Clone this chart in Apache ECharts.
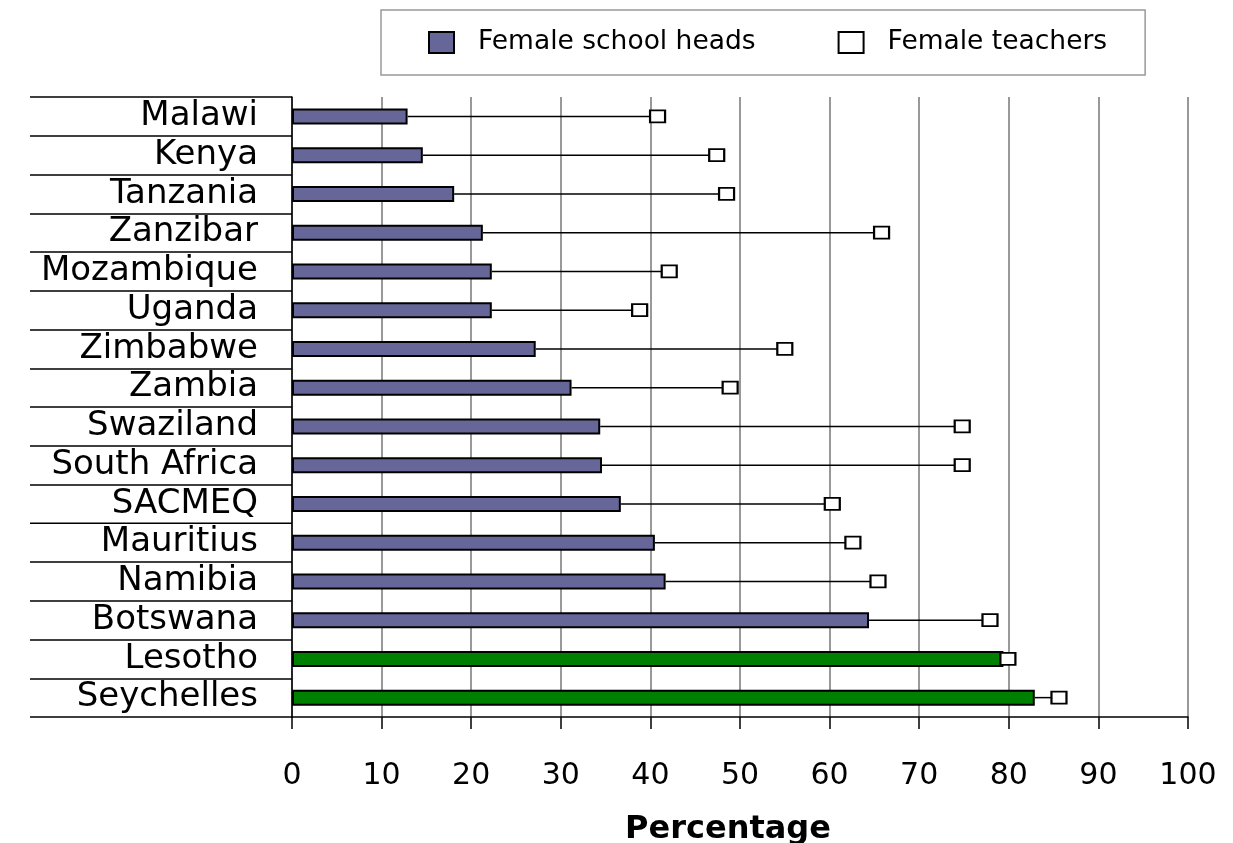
<!DOCTYPE html>
<html>
<head>
<meta charset="utf-8">
<script src="https://cdn.jsdelivr.net/npm/echarts@6/dist/echarts.min.js"></script>
<style>
  html, body { margin: 0; padding: 0; background: #fff; }
  #myechart { width: 1233px; height: 843px; }
</style>
</head>
<body>
<div id="myechart"></div>
<script>
// values, top row first
var categories = ['Malawi', 'Kenya', 'Tanzania', 'Zanzibar', 'Mozambique', 'Uganda', 'Zimbabwe', 'Zambia',
  'Swaziland', 'South Africa', 'SACMEQ', 'Mauritius', 'Namibia', 'Botswana', 'Lesotho', 'Seychelles'];
var schoolHeads = [12.9, 14.6, 18.1, 21.3, 22.3, 22.3, 27.2, 31.2, 34.4, 34.6, 36.7, 40.5, 41.7, 64.4, 79.4, 82.9];
var teachers = [40.8, 47.4, 48.5, 65.8, 42.1, 38.8, 55.0, 48.9, 74.8, 74.8, 60.3, 62.6, 65.4, 77.9, 79.9, 85.6];
var greenRows = ['Lesotho', 'Seychelles'];
var xTicks = [0, 10, 20, 30, 40, 50, 60, 70, 80, 90, 100];

var headsData = schoolHeads.map(function (v, i) {
  if (greenRows.indexOf(categories[i]) >= 0) {
    return { value: v, itemStyle: { color: '#008000' } };
  }
  return v;
});
var teachersData = teachers.map(function (v, i) { return [v, categories[i]]; });
var linkData = categories.map(function (c, i) { return [i, schoolHeads[i], teachers[i]]; });

var myechart = echarts.init(document.getElementById('myechart'));

var option = {
  animation: false,
  backgroundColor: '#fff',
  textStyle: { fontFamily: 'DejaVu Sans' },
  legend: {
    data: ['Female school heads', 'Female teachers'],
    left: 381,
    top: 10,
    padding: [19, 38, 19, 47],
    borderColor: '#999',
    borderWidth: 1.5,
    itemGap: 82,
    itemWidth: 25,
    itemHeight: 21,
    icon: 'rect',
    textStyle: { fontFamily: 'DejaVu Sans', fontSize: 26.5, color: '#000', padding: [0, 0, 0, 19] }
  },
  grid: { left: 292, right: 45, top: 97, bottom: 126, outerBoundsMode: 'none', containLabel: false },
  xAxis: {
    type: 'value',
    min: 0,
    max: 100,
    interval: 10,
    name: 'Percentage',
    nameLocation: 'middle',
    nameGap: 97,
    nameTextStyle: { fontFamily: 'DejaVu Sans', fontWeight: 'bold', fontSize: 32, color: '#000', padding: [0, 24, 0, 0] },
    axisLine: { show: true, lineStyle: { color: '#000', width: 1.5 } },
    axisTick: { show: true, length: 12, lineStyle: { color: '#000', width: 1.5 } },
    axisLabel: {
      margin: 44,
      fontFamily: 'DejaVu Sans',
      fontSize: 30,
      color: '#000',
      formatter: function (v) { return xTicks.indexOf(v) >= 0 ? String(v) : ''; }
    },
    splitLine: { show: true, lineStyle: { color: '#999', width: 2 } }
  },
  yAxis: {
    type: 'category',
    data: categories,
    inverse: true,
    axisLine: { show: true, lineStyle: { color: '#000', width: 1.5 } },
    axisTick: { show: true, interval: 0, length: 262, lineStyle: { color: '#000', width: 1.5 } },
    axisLabel: { interval: 0, margin: 34, fontFamily: 'DejaVu Sans', fontSize: 34, color: '#000', padding: [3, 0, 0, 0] },
    splitLine: { show: false }
  },
  series: [
    {
      name: 'links',
      type: 'custom',
      data: linkData,
      encode: { x: [1, 2], y: 0 },
      z: 1,
      renderItem: function (params, api) {
        var start = api.coord([api.value(1), api.value(0)]);
        var end = api.coord([api.value(2), api.value(0)]);
        return {
          type: 'line',
          shape: { x1: start[0], y1: start[1], x2: end[0], y2: end[1] },
          style: { stroke: '#000', lineWidth: 1.5 }
        };
      }
    },
    {
      name: 'Female school heads',
      type: 'bar',
      data: headsData,
      barWidth: 16,
      z: 2,
      itemStyle: { color: '#666699', borderColor: '#000', borderWidth: 2 }
    },
    {
      name: 'Female teachers',
      type: 'scatter',
      data: teachersData,
      symbol: 'rect',
      symbolSize: [15, 12],
      z: 3,
      itemStyle: { color: '#fff', borderColor: '#000', borderWidth: 2, opacity: 1 }
    }
  ]
};

myechart.setOption(option);
</script>
</body>
</html>
